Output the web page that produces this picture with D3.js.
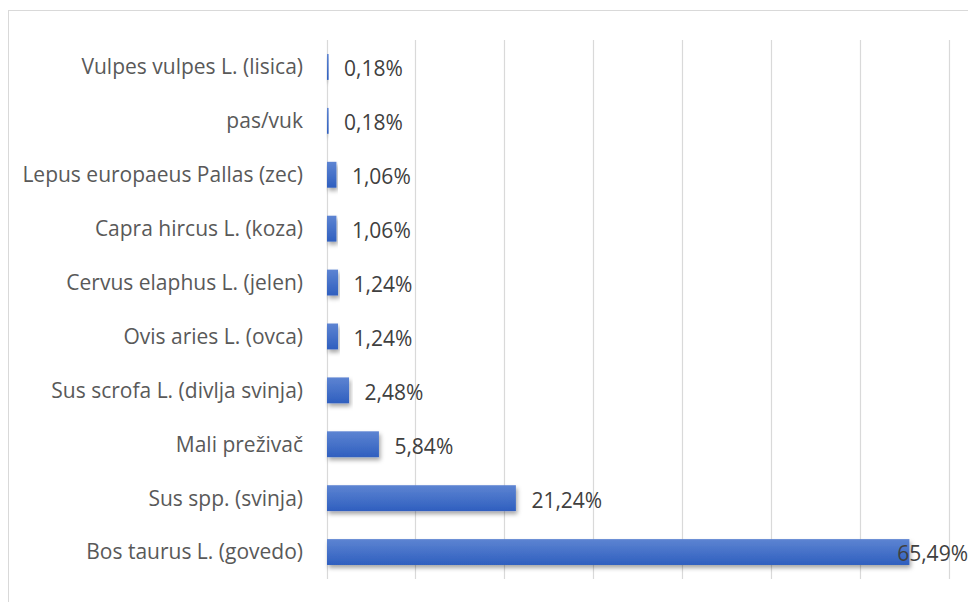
<!DOCTYPE html>
<html><head><meta charset="utf-8">
<script src="https://cdn.jsdelivr.net/npm/d3@7"></script>
<style>body{margin:0;background:#fff}svg{display:block}</style>
</head><body>
<script>
const categories = ["Vulpes vulpes L. (lisica)","pas/vuk","Lepus europaeus Pallas (zec)","Capra hircus L. (koza)","Cervus elaphus L. (jelen)","Ovis aries L. (ovca)","Sus scrofa L. (divlja svinja)","Mali preživač","Sus spp. (svinja)","Bos taurus L. (govedo)"];
const values = [0.18,0.18,1.06,1.06,1.24,1.24,2.48,5.84,21.24,65.49];
const valueLabels = ["0,18%","0,18%","1,06%","1,06%","1,24%","1,24%","2,48%","5,84%","21,24%","65,49%"];
const xTicks = [0,10,20,30,40,50,60,70];

const W=968,H=602;
const svg=d3.select("body").append("svg").attr("width",W).attr("height",H);
const defs=svg.append("defs");
const g=defs.append("linearGradient").attr("id","bg").attr("x1",0).attr("y1",0).attr("x2",0).attr("y2",1);
g.append("stop").attr("offset","0%").attr("stop-color","#5d84d2");
g.append("stop").attr("offset","100%").attr("stop-color","#2f5fbf");
const f=defs.append("filter").attr("id","sh").attr("x","-5%").attr("y","-30%").attr("width","120%").attr("height","180%");
f.append("feDropShadow").attr("dx",1.5).attr("dy",3).attr("stdDeviation",2.2).attr("flood-color","#000").attr("flood-opacity",0.35);

svg.append("rect").attr("x",8.5).attr("y",10.5).attr("width",W).attr("height",H).attr("fill","none").attr("stroke","#d9d9d9").attr("stroke-width",1);

const x=d3.scaleLinear().domain([0,70]).range([326.5,949]);
const y=d3.scaleBand().domain(categories).range([40,579]).paddingInner(0.52).paddingOuter(0.26);

svg.append("g").selectAll("line").data(xTicks).join("line")
 .attr("x1",d=>Math.round(x(d))+0.5).attr("x2",d=>Math.round(x(d))+0.5)
 .attr("y1",40).attr("y2",579).attr("stroke","#d9d9d9").attr("stroke-width",1.2);

svg.append("g").selectAll("rect").data(values).join("rect")
 .attr("x",x(0)+0.5).attr("y",(d,i)=>y(categories[i]))
 .attr("width",d=>Math.max(1.5,x(d)-x(0)))
 .attr("height",y.bandwidth())
 .attr("fill","url(#bg)").attr("filter","url(#sh)");

const font="'Open Sans', sans-serif";
svg.append("g").selectAll("text").data(categories).join("text")
 .attr("x",303).attr("y",d=>y(d)+y.bandwidth()/2).attr("dy","0.35em")
 .attr("text-anchor","end").attr("font-family",font).attr("font-size",21)
 .attr("fill","#595959").text(d=>d);

const lab=svg.append("g").selectAll("text").data(values).join("text")
 .attr("y",(d,i)=>y(categories[i])+y.bandwidth()/2+2).attr("dy","0.35em")
 .attr("font-family",font).attr("font-size",21).attr("fill","#404040")
 .text((d,i)=>valueLabels[i]);
lab.attr("x",function(d){const w=this.getComputedTextLength();return Math.min(x(d)+16,W-w);});
</script>
</body></html>
